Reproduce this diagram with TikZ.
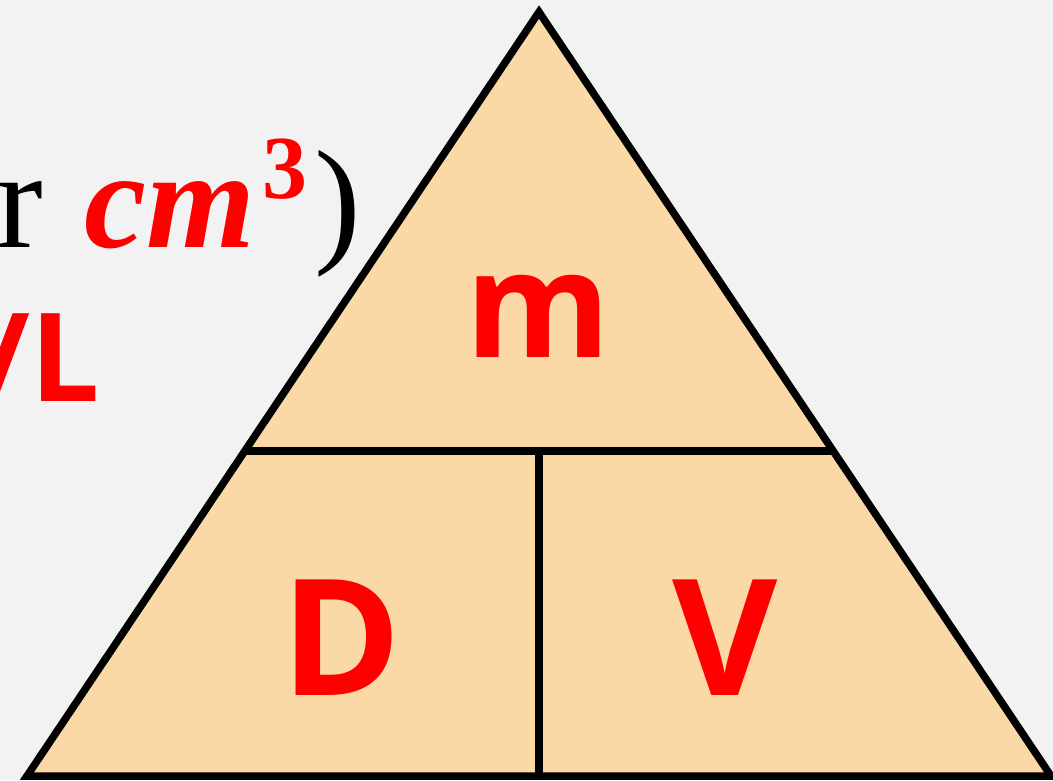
\documentclass[tikz,border=0pt]{standalone}
\usepackage{fontspec}
\usetikzlibrary{calc}
\setmainfont{Open Sans}
\newfontfamily\serifface{Liberation Serif}
\definecolor{bgc}{HTML}{F2F2F2}
\definecolor{peach}{HTML}{FAD9A7}
\definecolor{redc}{HTML}{FF0000}
\begin{document}
\begin{tikzpicture}[x=1pt,y=-1pt,
  edge/.style={draw=black, line width=7.5pt, line join=miter},
  bigletter/.style={text=redc, inner sep=0, font=\fontsize{162}{170}\selectfont\bfseries},
  sertext/.style={inner sep=0, anchor=base, font=\fontsize{140}{150}\selectfont\serifface},
]
\useasboundingbox[fill=bgc] (0,0) rectangle (1053,780);
\coordinate (top) at (539,12);
\coordinate (bl) at (27,776);
\coordinate (br) at (1051,776);
\coordinate (ml) at ($(top)!0.5746!(bl)$);
\coordinate (mr) at ($(top)!0.5746!(br)$);
\coordinate (mid) at (539,449);
\coordinate (bm) at (539,776);
\fill[peach] (top) -- (bl) -- (br) -- cycle;
\draw[edge] (ml) -- (mr);
\draw[edge] (mid) -- (bm);
\draw[edge] (top) -- (bl) -- (br) -- cycle;
\node[bigletter, font=\fontsize{148}{150}\selectfont\bfseries] (m) at (538,316) {m};
\node[bigletter] (D) at (341,638) {D};
\node[bigletter] (V) at (725,638) {V};
\node[sertext] (r) at (20,247) {r};
\node[sertext, text=redc, font=\fontsize{140}{150}\selectfont\serifface\bfseries\itshape] (cm) at (170,247) {cm};
\node[sertext, text=redc, font=\fontsize{90}{90}\selectfont\serifface\bfseries] (three) at (285,198) {3};
\node[sertext] (paren) at (338,247) {)};
\node[inner sep=0, anchor=base east, text=redc, font=\fontsize{123}{130}\selectfont\bfseries] (L) at (100,401) {/L};
\end{tikzpicture}
\end{document}
